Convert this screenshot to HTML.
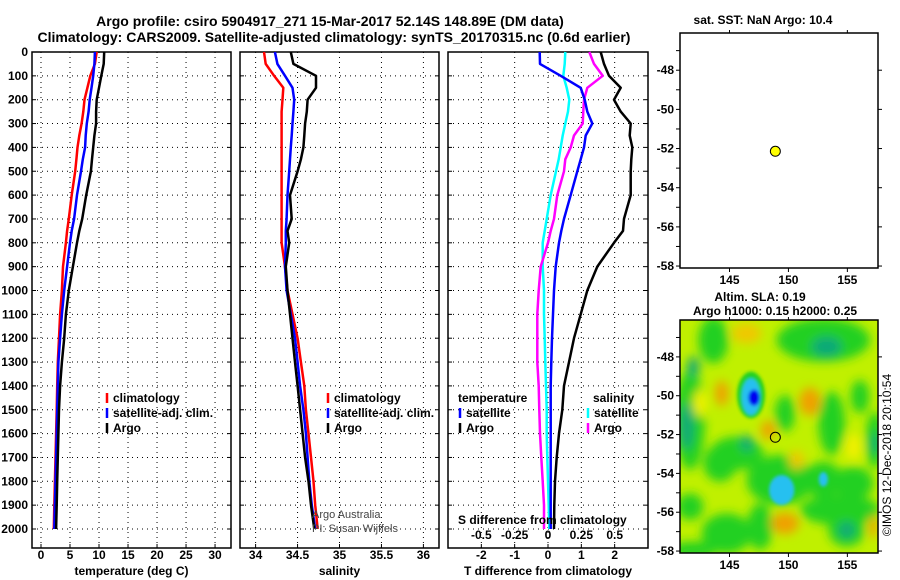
<!DOCTYPE html>
<html><head><meta charset="utf-8"><style>
body{margin:0;background:#fff}
svg{display:block;font-family:"Liberation Sans",sans-serif;font-weight:bold}
</style></head><body>
<svg id="fig" width="900" height="580" viewBox="0 0 900 580">
<defs>
<filter id="blur" x="-50%" y="-50%" width="200%" height="200%"><feGaussianBlur stdDeviation="5"/></filter>
<filter id="blur2" x="-50%" y="-50%" width="200%" height="200%"><feGaussianBlur stdDeviation="1.5"/></filter>
<clipPath id="mapclip"><rect x="680" y="320" width="198" height="233"/></clipPath>
</defs>
<text x="330" y="26" font-size="14" text-anchor="middle">Argo profile: csiro 5904917_271 15-Mar-2017 52.14S 148.89E (DM data)</text>
<text x="334" y="42" font-size="14" text-anchor="middle">Climatology: CARS2009. Satellite-adjusted climatology: synTS_20170315.nc (0.6d earlier)</text>
<g id="g"></g>
</svg>
<script>
const depths=[0,50,100,150,200,250,300,350,400,450,500,600,700,750,800,900,1000,1100,1200,1300,1400,1500,1600,1700,1800,1900,2000];
const argoT=[10.9,10.8,10.4,10.0,9.6,9.5,9.5,9.2,9.0,8.8,8.6,7.8,7.1,6.6,6.2,5.5,4.8,4.3,4.0,3.6,3.3,3.1,3.0,2.9,2.8,2.7,2.6];
const climT=[9.6,9.3,8.5,8.0,7.5,7.3,7.0,6.6,6.3,6.1,5.9,5.3,4.8,4.5,4.3,3.8,3.6,3.3,3.1,2.9,2.8,2.7,2.6,2.5,2.4,2.3,2.2];
const satT=[9.3,9.2,9.0,8.7,8.4,8.2,7.9,7.7,7.6,7.2,6.9,6.2,5.7,5.3,5.0,4.5,4.0,3.6,3.3,3.0,2.9,2.8,2.7,2.6,2.5,2.4,2.3];
const argoS=[34.42,34.45,34.72,34.72,34.62,34.61,34.59,34.58,34.57,34.54,34.50,34.41,34.43,34.38,34.40,34.36,34.38,34.41,34.44,34.47,34.50,34.53,34.56,34.59,34.63,34.66,34.70];
const climS=[34.10,34.12,34.22,34.33,34.32,34.31,34.31,34.31,34.31,34.31,34.31,34.31,34.31,34.31,34.31,34.35,34.38,34.44,34.50,34.54,34.58,34.60,34.63,34.66,34.69,34.71,34.74];
const satS=[34.23,34.26,34.35,34.44,34.46,34.45,34.44,34.43,34.42,34.41,34.40,34.38,34.37,34.36,34.36,34.35,34.37,34.42,34.47,34.50,34.53,34.57,34.60,34.62,34.64,34.67,34.71];
const argoTd=[1.58,1.68,1.83,2.18,1.98,2.18,2.48,2.45,2.53,2.50,2.48,2.48,2.28,2.25,1.98,1.48,1.18,0.98,0.78,0.63,0.48,0.43,0.33,0.26,0.21,0.19,0.18];
const satTd=[-0.25,-0.24,0.38,0.98,1.1,1.18,1.33,1.13,1.08,0.98,0.88,0.68,0.48,0.40,0.33,0.23,0.18,0.15,0.12,0.10,0.08,0.08,0.08,0.08,0.08,0.08,0.08];
const satSd=[0.13,0.125,0.115,0.14,0.16,0.15,0.13,0.11,0.095,0.08,0.06,0.02,-0.01,-0.025,-0.04,-0.04,-0.03,-0.03,-0.025,-0.02,-0.015,-0.01,-0.01,-0.005,0,0.005,0.01];
const argoSd=[0.31,0.345,0.41,0.295,0.27,0.265,0.26,0.195,0.17,0.13,0.12,0.07,0.045,0.02,0,-0.055,-0.07,-0.08,-0.08,-0.08,-0.07,-0.065,-0.06,-0.05,-0.04,-0.03,-0.03];
const depthTicks=[0,100,200,300,400,500,600,700,800,900,1000,1100,1200,1300,1400,1500,1600,1700,1800,1900,2000];
const tTicks=[0,5,10,15,20,25,30];
const sTicks=[34,34.5,35,35.5,36];
const sTickLabels=["34","34.5","35","35.5","36"];
const dTTicks=[-2,-1,0,1,2];
const dSTicks=[-0.5,-0.25,0,0.25,0.5];
const dSTickLabels=["-0.5","-0.25","0","0.25","0.5"];
const lonTicks=[145,150,155];
const latTicks=[-48,-50,-52,-54,-56,-58];
const argoLon=148.89, argoLat=-52.14;

const NS="http://www.w3.org/2000/svg";
const G=document.getElementById('g');
function el(tag,attrs,parent){const e=document.createElementNS(NS,tag);for(const k in attrs)e.setAttribute(k,attrs[k]);(parent||G).appendChild(e);return e;}
function txt(x,y,s,size,anchor,parent,fill){const t=el('text',{x:x,y:y,'font-size':size,'text-anchor':anchor||'start',fill:fill||'#000'},parent);t.textContent=s;return t;}

const TOP=52,BOT=548;
const yD=d=>TOP+d*0.2385;
function lin(d0,d1,r0,r1){return v=>r0+(v-d0)*(r1-r0)/(d1-d0);}
const panels=[
 {x0:32,x1:231,fx:lin(-1.55,32.75,32,231),ticks:tTicks,labels:tTicks.map(String),title:"temperature (deg C)",name:"temperature-panel"},
 {x0:240,x1:439,fx:lin(33.814,36.186,240,439),ticks:sTicks,labels:sTickLabels,title:"salinity",name:"salinity-panel"},
 {x0:448,x1:648,fx:lin(-3,3,448,648),ticks:dTTicks,labels:dTTicks.map(String),title:"T difference from climatology",name:"difference-panel"}
];
panels.forEach((p,i)=>{
 const g=el('g',{});
 
 
 depthTicks.forEach(d=>{const y=yD(d);
  el('line',{x1:p.x0,x2:p.x1,y1:y,y2:y,stroke:'#000','stroke-dasharray':'1 4','stroke-width':1},g);
  el('line',{x1:p.x0,x2:p.x0+4,y1:y,y2:y,stroke:'#000'},g);
  el('line',{x1:p.x1-4,x2:p.x1,y1:y,y2:y,stroke:'#000'},g);
 });
 p.ticks.forEach((v,k)=>{const x=p.fx(v);
  el('line',{x1:x,x2:x,y1:TOP,y2:BOT,stroke:'#000','stroke-dasharray':'1 4'},g);
  el('line',{x1:x,x2:x,y1:BOT-4,y2:BOT,stroke:'#000'},g);
  const t=txt(x,559,p.labels[k],12,'middle',g);
  
  
 });
 el('rect',{x:p.x0,y:TOP,width:p.x1-p.x0,height:BOT-TOP,fill:'none',stroke:'#000','stroke-width':1.5},g);
 const at=txt((p.x0+p.x1)/2,575,p.title,12,'middle',g);
 
 
});
depthTicks.forEach(d=>{const t=txt(28,yD(d)+4,String(d),12,'end');
 
 });

function series(vals,fx,color,name){
 const pts=vals.map((v,i)=>fx(v).toFixed(1)+','+yD(depths[i]).toFixed(1)).join(' ');
 const pl=el('polyline',{points:pts,fill:'none',stroke:color,'stroke-width':2.5,'stroke-linejoin':'round'});
 
 
}
const P=panels;
series(climT,P[0].fx,'#ff0000','climatology-temperature-line');
series(satT,P[0].fx,'#0000ff','satellite-temperature-line');
series(argoT,P[0].fx,'#000','argo-temperature-line');
series(climS,P[1].fx,'#ff0000','climatology-salinity-line');
series(satS,P[1].fx,'#0000ff','satellite-salinity-line');
series(argoS,P[1].fx,'#000','argo-salinity-line');
const fS=v=>P[2].fx(v*4);
series(satSd,fS,'#00ffff','satellite-salinity-diff-line');
series(argoSd,fS,'#ff00ff','argo-salinity-diff-line');
series(satTd,P[2].fx,'#0000ff','satellite-temperature-diff-line');
series(argoTd,P[2].fx,'#000','argo-temperature-diff-line');

function legend(x,y,items,name){
 const g=el('g',{});
 
 
 items.forEach((it,i)=>{const yy=y+i*15;
  if(it[1])el('line',{x1:x,x2:x,y1:yy-9,y2:yy+1,stroke:it[1],'stroke-width':2.5},g);
  txt(x+6,yy,it[0],12,'start',g);});
}
legend(107,402,[["climatology","#f00"],["satellite-adj. clim.","#00f"],["Argo","#000"]],'temperature-legend');
legend(328,402,[["climatology","#f00"],["satellite-adj. clim.","#00f"],["Argo","#000"]],'salinity-legend');
txt(458,402,"temperature",12);
legend(460,417,[["satellite","#00f"],["Argo","#000"]],'temperature-diff-legend');
txt(593,402,"salinity",12);
legend(588,417,[["satellite","#0ff"],["Argo","#f0f"]],'salinity-diff-legend');
txt(312,518,"Argo Australia",11,'start',null,'#444').setAttribute('font-weight','normal');
txt(312,532,"PI: Susan Wijffels",11,'start',null,'#444').setAttribute('font-weight','normal');
txt(458,524,"S difference from climatology",12);
dSTicks.forEach((v,k)=>{const t=txt(fS(v),539,dSTickLabels[k],12,'middle');
 
 });

// maps
const mx=lin(140.8,157.6,680,878);
function mapFrame(y0,y1,latTop,latBot,name){
 const my=lin(latTop,latBot,y0,y1);
 const g=el('g',{});
 
 
 el('rect',{x:680,y:y0,width:198,height:y1-y0,fill:'none',stroke:'#000','stroke-width':1.5},g);
 lonTicks.forEach(v=>{const x=mx(v);el('line',{x1:x,x2:x,y1:y1,y2:y1+4,stroke:'#000'},g);el('line',{x1:x,x2:x,y1:y0,y2:y0-3,stroke:'#000'},g);txt(x,y1+16,String(v),12,'middle',g);});
 latTicks.forEach(v=>{const y=my(v);el('line',{x1:676,x2:680,y1:y,y2:y,stroke:'#000'},g);el('line',{x1:878,x2:882,y1:y,y2:y,stroke:'#000'},g);txt(674,y+4,String(v),12,'end',g);});
 for(let v=-47;v>=-58;v-=2){const y=my(v);el('line',{x1:676,x2:680,y1:y,y2:y,stroke:'#000'},g);}
 return my;
}
const my1=mapFrame(33,268,-46.1,-58.1,'sst-map');
txt(763,24,"sat. SST: NaN Argo: 10.4",12,'middle');
const dot=el('circle',{cx:mx(argoLon),cy:my1(argoLat),r:5,fill:'#ffff00',stroke:'#000'});



const my2=lin(-46.1,-58.1,320,553);
const hm=el('g',{'clip-path':'url(#mapclip)'});


el('rect',{x:680,y:320,width:198,height:233,fill:'#c0f000'},hm);
const bl=el('g',{filter:'url(#blur)'},hm);
const GR='#20d020',TL='#10a878',CY='#28c0f0',YE='#f0f000',OR='#f0a000',LO='#f0c800';
const blobs=[
 [200,40,45,30,LO],[30,300,45,150,GR],[20,320,20,70,TL],[100,60,45,70,GR],[40,140,18,30,TL],
 [170,400,80,50,GR],[120,430,50,55,GR],[200,370,18,25,TL],[315,280,30,55,GR],
 [430,60,140,65,GR],[440,80,45,30,TL],[455,310,40,95,GR],[540,230,28,50,GR],[585,360,28,85,GR],[585,370,12,35,TL],
 [300,480,100,75,GR],[430,480,55,55,GR],[520,490,60,50,GR],[480,570,120,45,GR],
 [140,640,75,60,GR],[30,560,40,40,GR],[500,630,55,50,GR],[500,630,25,25,TL],[240,620,38,70,GR],[40,690,70,25,GR],
 [390,245,32,42,OR],[125,220,20,38,OR],[265,330,22,28,OR],[350,420,22,28,LO],[315,610,42,32,OR],[580,620,12,35,OR],
 [60,250,20,40,YE],[520,380,25,40,YE]
];
blobs.forEach(b=>{el('ellipse',{cx:680+b[0]/3,cy:320+b[1]/3,rx:b[2]/3,ry:b[3]/3,fill:b[4]},bl);});
const bl2=el('g',{filter:'url(#blur2)'},hm);
[[213,225,42,70,GR],[213,230,28,55,CY],[305,510,38,45,CY],[430,478,14,22,CY],[222,233,17,24,'#0000f0']].forEach(b=>{
 el('ellipse',{cx:680+b[0]/3,cy:320+b[1]/3,rx:b[2]/3,ry:b[3]/3,fill:b[4]},bl2);});
mapFrame(320,553,-46.1,-58.1,'sla-map');
const c2=el('circle',{cx:mx(argoLon),cy:my2(argoLat),r:5,fill:'none',stroke:'#000'});


txt(760,301,"Altim. SLA: 0.19",12,'middle');
txt(775,315,"Argo h1000: 0.15 h2000: 0.25",12,'middle');
const cr=txt(0,0,"©IMOS 12-Dec-2018 20:10:54",12,'middle');
cr.setAttribute('transform','translate(891,455) rotate(-90)');
cr.setAttribute('font-weight','normal');


</script>
</body></html>
